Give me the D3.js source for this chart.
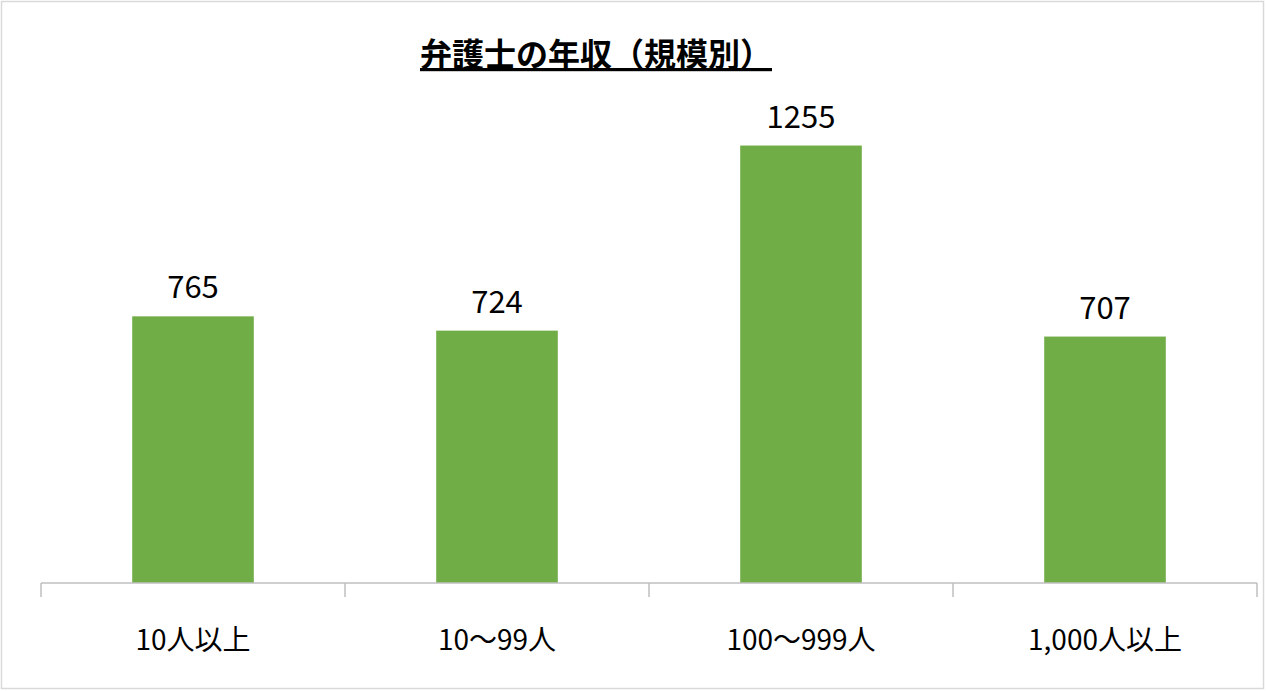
<!DOCTYPE html>
<html><head><meta charset="utf-8">
<script src="https://cdn.jsdelivr.net/npm/d3@7"></script>
<style>body{margin:0;background:#fff}</style></head>
<body><svg id="c" width="1266" height="691"></svg>
<script>
const categories = ["10人以上","10〜99人","100〜999人","1,000人以上"];
const values = [765,724,1255,707];
const title = "弁護士の年収（規模別）";

const svg = d3.select("#c");
const font = "'Noto Sans CJK JP', 'Noto Sans', sans-serif";
svg.append("rect").attr("x",1.5).attr("y",1.5).attr("width",1262).attr("height",687)
  .attr("fill","#fff").attr("stroke","#d9d9d9").attr("stroke-width",1.5);

const x = d3.scaleBand().domain(categories).range([41,1257]).paddingInner(0.6).paddingOuter(0.3);
const y = d3.scaleLinear().domain([0,1400]).range([583,95]);

svg.selectAll(".bar").data(values).enter().append("rect")
  .attr("x",(d,i)=>x(categories[i])).attr("width",x.bandwidth())
  .attr("y",d=>y(d)).attr("height",d=>y(0)-y(d)).attr("fill","#70AD47");

svg.selectAll(".lbl").data(values).enter().append("text")
  .attr("x",(d,i)=>x(categories[i])+x.bandwidth()/2).attr("y",d=>y(d)-18)
  .attr("text-anchor","middle").attr("font-family",font).attr("font-size",31)
  .attr("fill","#000").text(d=>d);

const ax = svg.append("g").attr("transform","translate(0,583)");
ax.append("line").attr("x1",41).attr("x2",1257).attr("stroke","#bfbfbf").attr("stroke-width",1.5);
const step = x.step();
d3.range(categories.length+1).forEach(i=>{
  const xx = 41 + i*(1216/categories.length);
  ax.append("line").attr("x1",xx).attr("x2",xx).attr("y1",0).attr("y2",14).attr("stroke","#bfbfbf").attr("stroke-width",1.5);
});
svg.selectAll(".cat").data(categories).enter().append("text")
  .attr("x",d=>x(d)+x.bandwidth()/2).attr("y",650)
  .attr("text-anchor","middle").attr("font-family",font).attr("font-size",28)
  .attr("fill","#000").text(d=>d);

svg.append("text").attr("x",596).attr("y",66).attr("text-anchor","middle")
  .attr("font-family",font).attr("font-size",32).attr("font-weight","bold")
  .attr("text-decoration","underline").attr("fill","#000").text(title);
</script></body></html>
